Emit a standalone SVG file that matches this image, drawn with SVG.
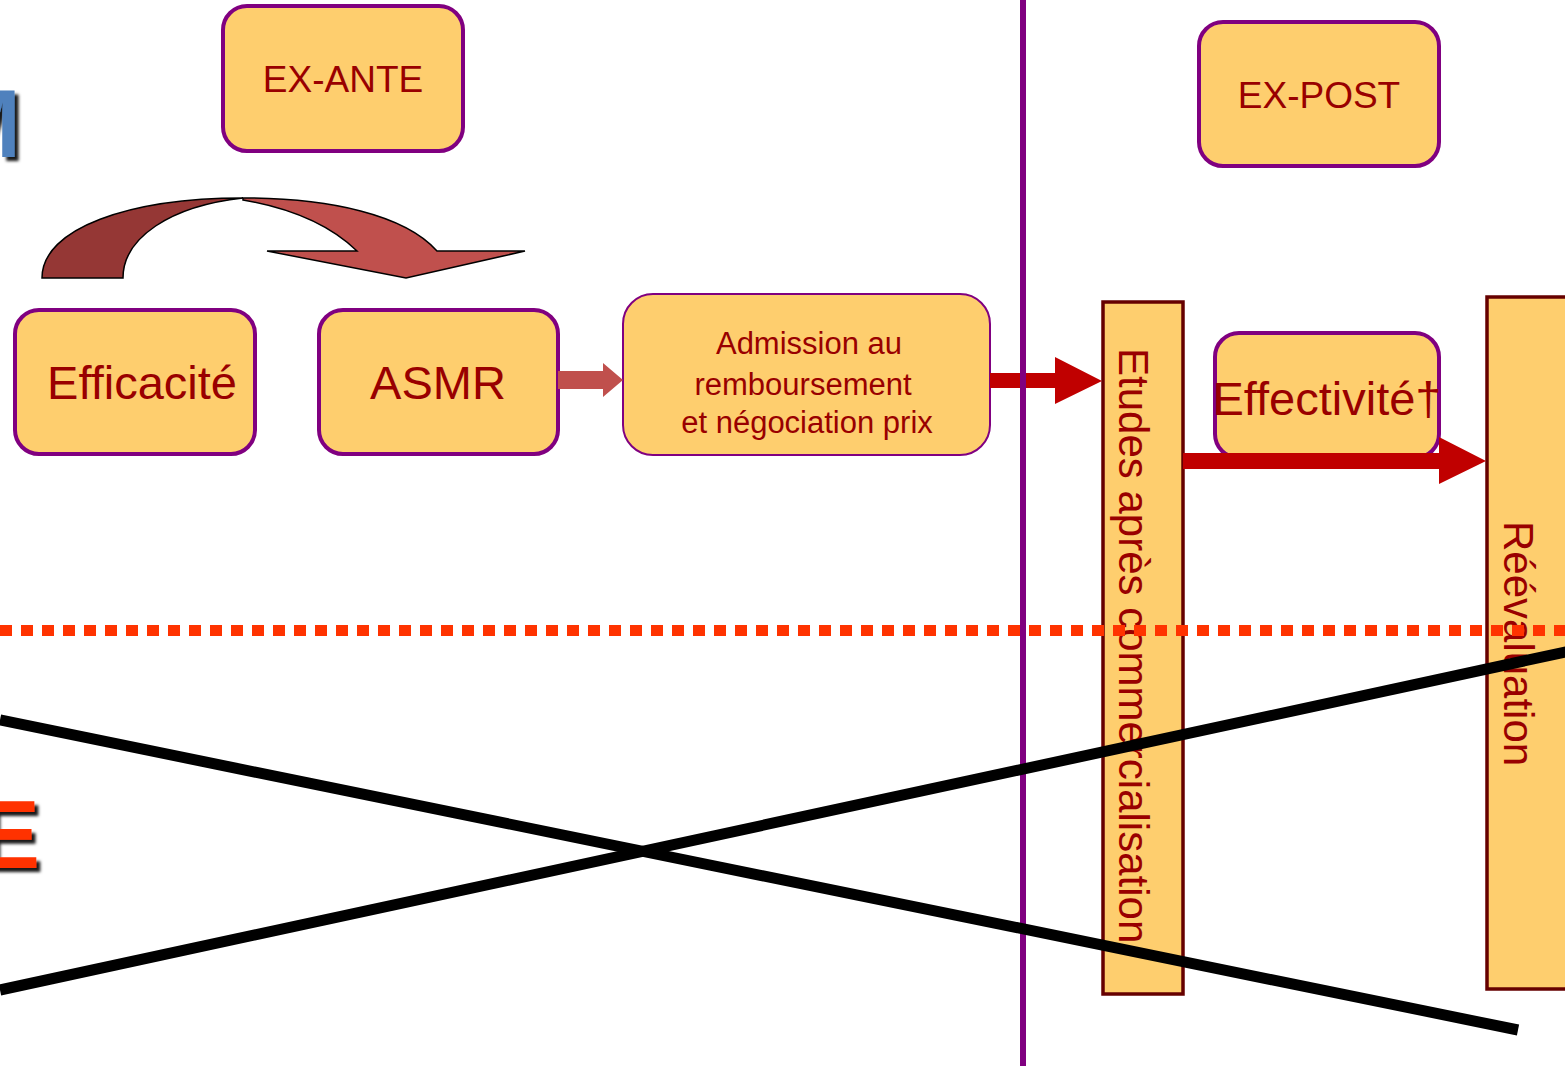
<svg xmlns="http://www.w3.org/2000/svg" width="1565" height="1066" viewBox="0 0 1565 1066">
<defs>
<style>
.node{fill:#FECE6E;stroke:#800080;stroke-width:4}
.thin{stroke-width:2}
.bar{fill:#FECE6E;stroke:#660000;stroke-width:3.5}
.t{font-family:"Liberation Sans",Arial,sans-serif;fill:#990000;text-anchor:middle}
.v{font-family:"Liberation Sans",Arial,sans-serif;fill:#990000;font-size:42px}
.big{font-family:"Liberation Sans",Arial,sans-serif;font-weight:bold;font-size:96px;text-anchor:end}
</style>
<filter id="sh" x="-50%" y="-50%" width="200%" height="200%"><feDropShadow dx="4" dy="4" stdDeviation="1.5" flood-color="#000" flood-opacity="0.9"/></filter>
</defs>
<rect width="1565" height="1066" fill="#ffffff"/>

<g id="title-fragments">
<text class="big" x="21" y="157" fill="#4F81BD" filter="url(#sh)">M</text>
<text class="big" x="40" y="868" fill="#FF3300" filter="url(#sh)">E</text>
</g>

<g id="node-exante">
<rect class="node" x="223" y="6" width="240" height="145" rx="24"/>
<text class="t" x="343" y="92" font-size="37">EX-ANTE</text>
</g>
<g id="node-expost">
<rect class="node" x="1199" y="22" width="240" height="144" rx="24"/>
<text class="t" x="1319" y="108" font-size="37">EX-POST</text>
</g>

<g id="curved-arrow" stroke="#000" stroke-width="1.5" stroke-linejoin="miter">
<path d="M42,278 C42,228 130,198 243,198 C170,206 123,238 123,278 Z" fill="#953735"/>
<path d="M243,198 C330,198 405,215 437,251 L525,251 L406,278 L267,251 L357,251 C330,225 290,208 243,200 Z" fill="#C0504D"/>
</g>

<g id="node-efficacite">
<rect class="node" x="15" y="310" width="240" height="144" rx="24"/>
<text class="t" x="142" y="399" font-size="47">Efficacité</text>
</g>
<g id="node-asmr">
<rect class="node" x="319" y="310" width="239" height="144" rx="24"/>
<text class="t" x="438" y="399" font-size="47">ASMR</text>
</g>
<g id="node-admission">
<rect class="node thin" x="623" y="294" width="367" height="161" rx="30"/>
<text class="t" x="809" y="354" font-size="31">Admission au</text>
<text class="t" x="803" y="395" font-size="31">remboursement</text>
<text class="t" x="807" y="433" font-size="31">et négociation prix</text>
</g>

<g id="node-etudes">
<rect class="bar" x="1103" y="302" width="80" height="692"/>
<text class="v" transform="translate(1119,348) rotate(90)">Etudes après commercialisation</text>
</g>
<g id="node-reevaluation">
<rect class="bar" x="1487" y="297" width="85" height="692"/>
<text class="v" transform="translate(1504,521) rotate(90)">Réévaluation</text>
</g>
<g id="node-effectivite">
<rect class="node" x="1215" y="333" width="224" height="125" rx="24"/>
<text class="t" x="1327" y="415" font-size="47">Effectivité†</text>
</g>

<g id="connectors">
<path d="M558,371 L603,371 L603,363 L623,380 L603,397 L603,389 L558,389 Z" fill="#C0504D"/>
<path d="M990,373 L1055,373 L1055,357 L1102,381 L1055,404 L1055,388 L990,388 Z" fill="#C00000"/>
<path d="M1183,453 L1439,453 L1439,437 L1486,461 L1439,484 L1439,469 L1183,469 Z" fill="#C00000"/>
</g>

<g id="dividers">
<line x1="1023" y1="0" x2="1023" y2="1066" stroke="#800080" stroke-width="6"/>
<line x1="0" y1="630.5" x2="1565" y2="630.5" stroke="#FF3300" stroke-width="11" stroke-dasharray="12 9"/>
<line x1="0" y1="720" x2="1518" y2="1030" stroke="#000" stroke-width="11"/>
<line x1="0" y1="990" x2="1570" y2="651" stroke="#000" stroke-width="11"/>
</g>
</svg>
